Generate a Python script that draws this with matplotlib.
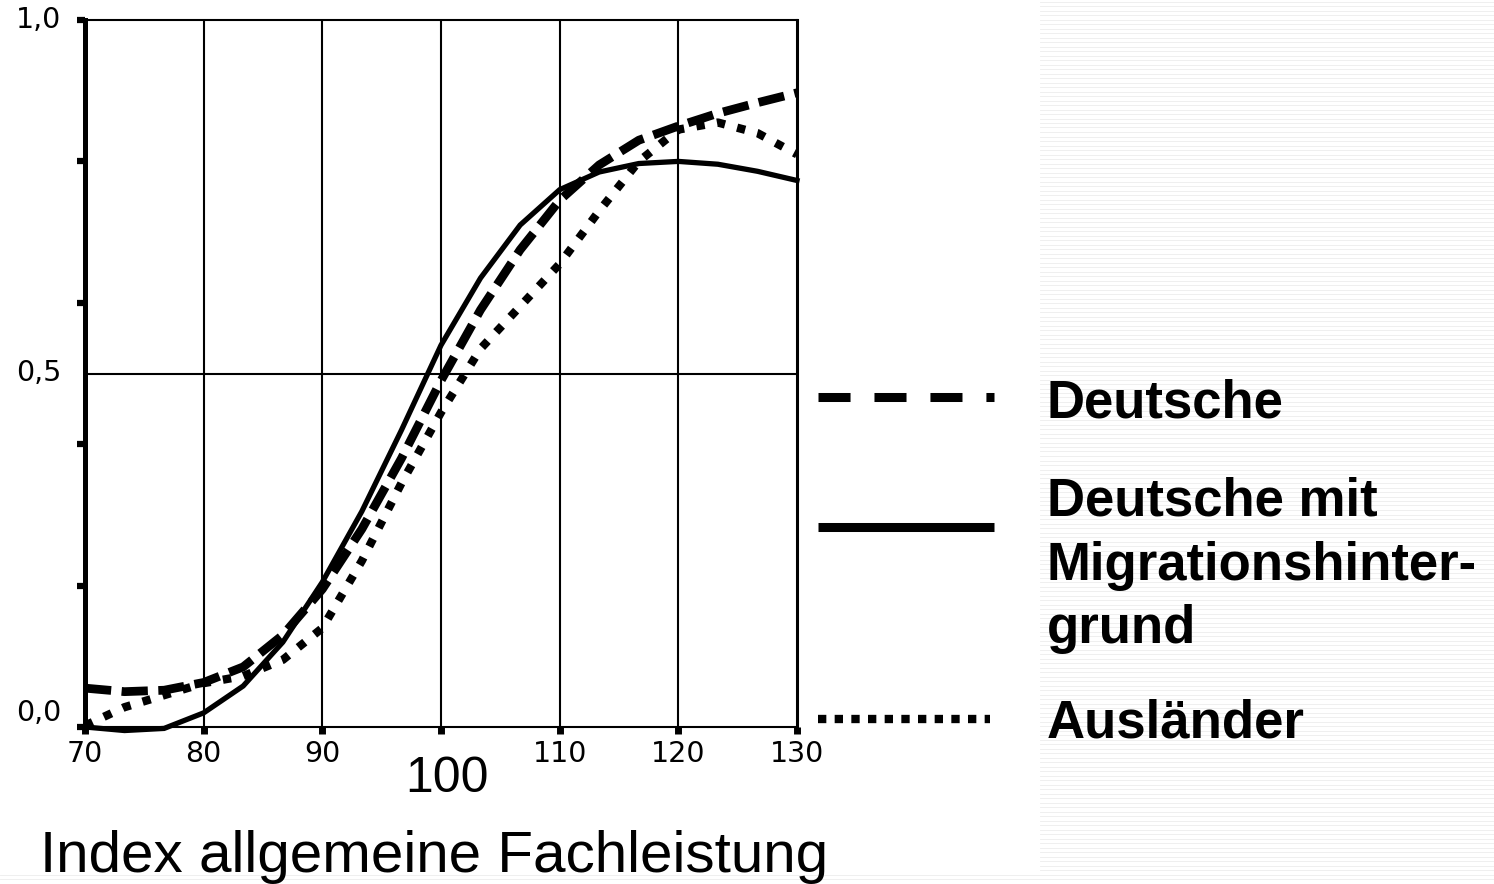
import matplotlib
matplotlib.use("Agg")
import matplotlib.pyplot as plt
import numpy as np
from matplotlib.lines import Line2D

# x grid of the curves (index allgemeine Fachleistung)
index_values = [70, 73.33, 76.67, 80, 83.33, 86.67, 90, 93.33, 96.67, 100,
                103.33, 106.67, 110, 113.33, 116.67, 120, 123.33, 126.67, 130]

deutsche = [0.055, 0.050, 0.052, 0.063, 0.085, 0.130, 0.195, 0.280, 0.380, 0.490,
            0.590, 0.675, 0.745, 0.795, 0.830, 0.850, 0.868, 0.883, 0.897]
migration = [0.000, -0.005, -0.002, 0.020, 0.058, 0.120, 0.205, 0.305, 0.420, 0.540,
             0.635, 0.710, 0.760, 0.785, 0.797, 0.800, 0.796, 0.786, 0.773]
auslaender = [0.002, 0.028, 0.045, 0.062, 0.072, 0.095, 0.140, 0.235, 0.345, 0.445,
              0.535, 0.595, 0.655, 0.730, 0.800, 0.845, 0.855, 0.840, 0.810]

x_ticks = [70, 80, 90, 100, 110, 120, 130]
x_tick_labels = ["70", "80", "90", "", "110", "120", "130"]
y_ticks = [0.0, 0.2, 0.4, 0.6, 0.8, 1.0]
y_labels = {0.0: "0,0", 0.5: "0,5", 1.0: "1,0"}
legend_labels = [["Deutsche"], ["Deutsche mit", "Migrationshinter-", "grund"], ["Ausländer"]]

W, H = 1494, 884
plt.rcParams["font.family"] = ["DejaVu Sans"]


def fx(px):
    return px / W


def fy(py):
    return 1 - py / H


fig = plt.figure(figsize=(W / 100, H / 100), dpi=100)

# striped background on the right
for yy in np.arange(1.5, H, 4.5):
    x0 = 0 if yy > 872 else 1040
    fig.add_artist(Line2D([fx(x0), 1], [fy(yy), fy(yy)], transform=fig.transFigure,
                          color="#ececec", lw=0.6, zorder=0))

ax = fig.add_axes([fx(85), fy(727), fx(797) - fx(85), fy(20) - fy(727)])
ax.set_xlim(70, 130)
ax.set_ylim(0, 1)

for xv in [80, 90, 100, 110, 120]:
    ax.axvline(xv, color="black", lw=1.5, zorder=1)
ax.axhline(0.5, color="black", lw=1.5, zorder=1)

ax.plot(index_values, migration, color="black", lw=3.8, solid_joinstyle="miter",
        clip_on=False, zorder=3)
ax.plot(index_values, deutsche, color="black", lw=6.3, dashes=(3.0, 1.2),
        dash_capstyle="butt", clip_on=False, zorder=3)
ax.plot(index_values, auslaender, color="black", lw=6, dashes=(1.0, 1.5),
        dash_capstyle="butt", clip_on=False, zorder=3)

ax.spines["left"].set_linewidth(3.6)
ax.spines["bottom"].set_linewidth(1.5)
ax.spines["right"].set_linewidth(2.2)
ax.spines["top"].set_linewidth(1.5)

ax.set_xticks(x_ticks)
ax.set_xticklabels(x_tick_labels, fontsize=20.5)
ax.set_yticks(y_ticks)
ax.set_yticklabels([])
ax.tick_params(axis="x", direction="out", length=5, width=5, pad=4)
ax.tick_params(axis="y", direction="out", length=6, width=4.5)

ytr = ax.get_yaxis_transform()
for yv, lab in y_labels.items():
    off = 0.02 if yv == 0.0 else 0.0
    ax.text(-0.033, yv + off, lab, transform=ytr, ha="right", va="center",
            fontsize=20.5, clip_on=False)

fig.text(fx(447), fy(792), "100", fontsize=36, family="Liberation Sans",
         ha="center", va="baseline")
fig.text(fx(40), fy(872), "Index allgemeine Fachleistung", fontsize=42,
         family="Liberation Sans", ha="left", va="baseline")

# legend drawn by hand
fig.add_artist(Line2D([fx(818), fx(994)], [fy(397), fy(397)], transform=fig.transFigure,
                      color="black", lw=6.5, dashes=(3.55, 2.65), dash_capstyle="butt"))
fig.add_artist(Line2D([fx(818), fx(994)], [fy(527), fy(527)], transform=fig.transFigure,
                      color="black", lw=6.5, solid_capstyle="butt"))
fig.add_artist(Line2D([fx(818), fx(990)], [fy(719), fy(719)], transform=fig.transFigure,
                      color="black", lw=6, dashes=(1.0, 1.0), dash_capstyle="butt"))

legend_baselines = [[418], [515, 580, 643], [738]]
for lines, bases in zip(legend_labels, legend_baselines):
    for txt, base in zip(lines, bases):
        fig.text(fx(1047), fy(base), txt, fontsize=38, fontweight="bold",
                 family="Liberation Sans", ha="left", va="baseline")

fig.savefig("out.png", dpi=100)
